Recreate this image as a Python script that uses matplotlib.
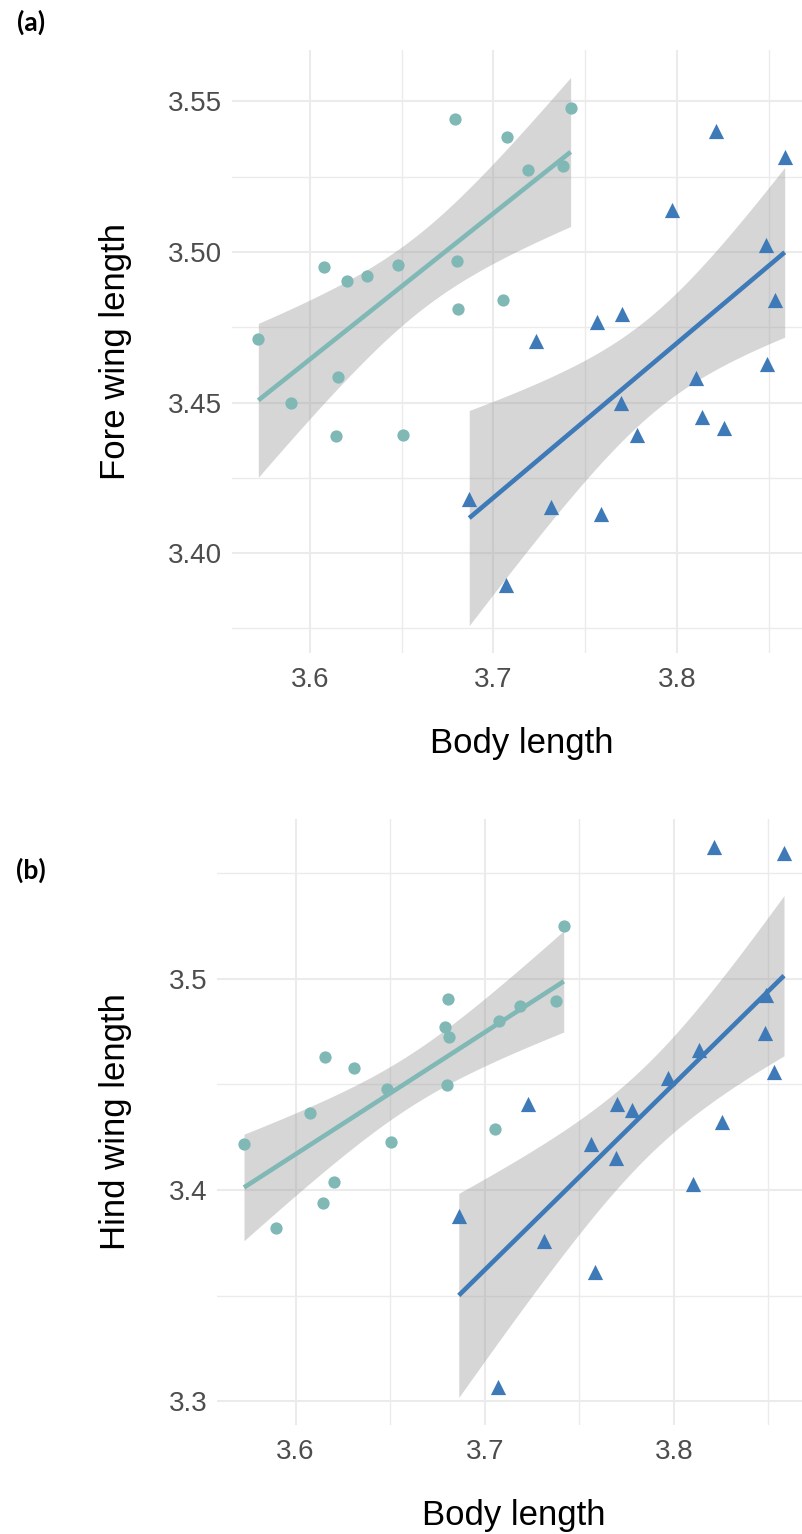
import numpy as np
import matplotlib.pyplot as plt
from matplotlib.ticker import FormatStrFormatter

plt.rcParams['font.family'] = ['Liberation Sans', 'DejaVu Sans']

# (a) fore wing vs body length, two groups
body_a_circ = [3.572, 3.5897, 3.6075, 3.6143, 3.6155, 3.6202, 3.6309, 3.6481, 3.6505,
               3.6792, 3.6802, 3.6808, 3.7054, 3.7074, 3.7189, 3.7377, 3.742]
fore_circ = [3.471, 3.450, 3.495, 3.439, 3.4585, 3.4902, 3.4921, 3.4957, 3.4391,
             3.544, 3.4971, 3.4809, 3.4842, 3.5382, 3.5273, 3.5286, 3.5478]
body_a_tri = [3.6868, 3.7066, 3.7234, 3.7311, 3.7561, 3.7585, 3.7694, 3.77, 3.7783,
              3.7971, 3.81, 3.8134, 3.8213, 3.8253, 3.849, 3.8482, 3.853, 3.8585]
fore_tri = [3.418, 3.3893, 3.4705, 3.4152, 3.4769, 3.4131, 3.4499, 3.4795, 3.4392,
            3.5138, 3.458, 3.4452, 3.5401, 3.4415, 3.4629, 3.5023, 3.4842, 3.5316]

# (b) hind wing vs body length
body_b_circ = [3.5727, 3.5894, 3.6077, 3.6146, 3.6156, 3.6202, 3.631, 3.6482, 3.6507,
               3.6792, 3.6799, 3.6805, 3.6811, 3.7055, 3.7075, 3.7186, 3.7377, 3.7418]
hind_circ = [3.4219, 3.3821, 3.4363, 3.3936, 3.4629, 3.4039, 3.4579, 3.448, 3.4225,
             3.4772, 3.4495, 3.4906, 3.4725, 3.4288, 3.4799, 3.4873, 3.4894, 3.5248]
body_b_tri = [3.6863, 3.7068, 3.7229, 3.7315, 3.756, 3.7585, 3.7695, 3.7701, 3.7778,
              3.797, 3.81, 3.8134, 3.8211, 3.8253, 3.848, 3.849, 3.8529, 3.8583]
hind_tri = [3.3876, 3.3066, 3.4406, 3.3758, 3.4217, 3.3612, 3.4151, 3.4406, 3.4379,
            3.4531, 3.403, 3.4665, 3.5626, 3.4321, 3.4744, 3.4925, 3.4558, 3.5594]

x_ticks = [3.6, 3.7, 3.8]
x_minor = [3.65, 3.75, 3.85]
y_ticks_a = [3.40, 3.45, 3.50, 3.55]
y_minor_a = [3.375, 3.425, 3.475, 3.525]
y_ticks_b = [3.3, 3.4, 3.5]
y_minor_b = [3.35, 3.45, 3.55]

T95 = {15: 2.131, 16: 2.120}   # t quantiles for the lm confidence band
CIRC_COL = '#80B8B6'
TRI_COL = '#3E7AB7'
GRID = '#EBEBEB'

W, H = 802, 1534
fig = plt.figure(figsize=(W / 100, H / 100), dpi=100)


def box(l, t, r, b):
    return [l / W, 1 - b / H, (r - l) / W, (b - t) / H]


def lm_band(x, y):
    x = np.asarray(x)
    y = np.asarray(y)
    n = len(x)
    slope, icpt = np.polyfit(x, y, 1)
    xs = np.linspace(x.min(), x.max(), 80)
    fit = icpt + slope * xs
    resid = y - (icpt + slope * x)
    s = np.sqrt(resid @ resid / (n - 2))
    se = s * np.sqrt(1 / n + (xs - x.mean()) ** 2 / ((x - x.mean()) ** 2).sum())
    t = T95[n - 2]
    return xs, fit, fit - t * se, fit + t * se


def panel(ax, groups, yt, ym, yfmt, ylabel, px):
    lo, hi = [], []
    for x, y, col, mk, sz in groups:
        xs, fit, low, up = lm_band(x, y)
        ax.fill_between(xs, low, up, color='#999999', alpha=0.4, lw=0, zorder=2)
        ax.scatter(x, y, s=sz, marker=mk, color=col, lw=0, zorder=3)
        ax.plot(xs, fit, color=col, lw=3.3, solid_capstyle='butt', zorder=4)
        lo += [min(y), low.min()]
        hi += [max(y), up.max()]
    allx = np.concatenate([g[0] for g in groups])
    xr = allx.max() - allx.min()
    ax.set_xlim(allx.min() - 0.05 * xr, allx.max() + 0.05 * xr)
    yr = max(hi) - min(lo)
    ax.set_ylim(min(lo) - 0.05 * yr, max(hi) + 0.05 * yr)

    ax.set_xticks(x_ticks)
    ax.set_xticks(x_minor, minor=True)
    ax.set_yticks(yt)
    ax.set_yticks(ym, minor=True)
    ax.yaxis.set_major_formatter(FormatStrFormatter(yfmt))
    ax.grid(which='major', color=GRID, lw=1.5, zorder=0)
    ax.grid(which='minor', color=GRID, lw=1.0, zorder=0)
    ax.set_axisbelow(True)
    ax.tick_params(which='both', length=0, labelsize=20, labelcolor='#4D4D4D')
    ax.tick_params(axis='x', pad=10)
    ax.tick_params(axis='y', pad=7)
    for sp in ax.spines.values():
        sp.set_visible(False)

    l, t, r, b = px
    ax.set_xlabel('Body length', fontsize=25, va='center')
    ax.xaxis.set_label_coords(0.5, -(90) / (b - t))
    ax.set_ylabel(ylabel, fontsize=25, va='center')
    ax.yaxis.set_label_coords(-(l - 115) / (r - l), 0.5)


px_a = (232, 50, 811, 653)
px_b = (217, 819, 811, 1425)
ax1 = fig.add_axes(box(*px_a))
ax2 = fig.add_axes(box(*px_b))

panel(ax1, [(body_a_circ, fore_circ, CIRC_COL, 'o', 78),
            (body_a_tri, fore_tri, TRI_COL, '^', 120)],
      y_ticks_a, y_minor_a, '%.2f', 'Fore wing length', px_a)
panel(ax2, [(body_b_circ, hind_circ, CIRC_COL, 'o', 78),
            (body_b_tri, hind_tri, TRI_COL, '^', 120)],
      y_ticks_b, y_minor_b, '%.1f', 'Hind wing length', px_b)

fig.text(31 / W, 1 - 22 / H, '(a)', fontsize=19, fontweight='bold',
         family=['Lato', 'DejaVu Sans'], ha='center', va='center')
fig.text(31 / W, 1 - 870 / H, '(b)', fontsize=19, fontweight='bold',
         family=['Lato', 'DejaVu Sans'], ha='center', va='center')

fig.savefig('out.png', dpi=100)
